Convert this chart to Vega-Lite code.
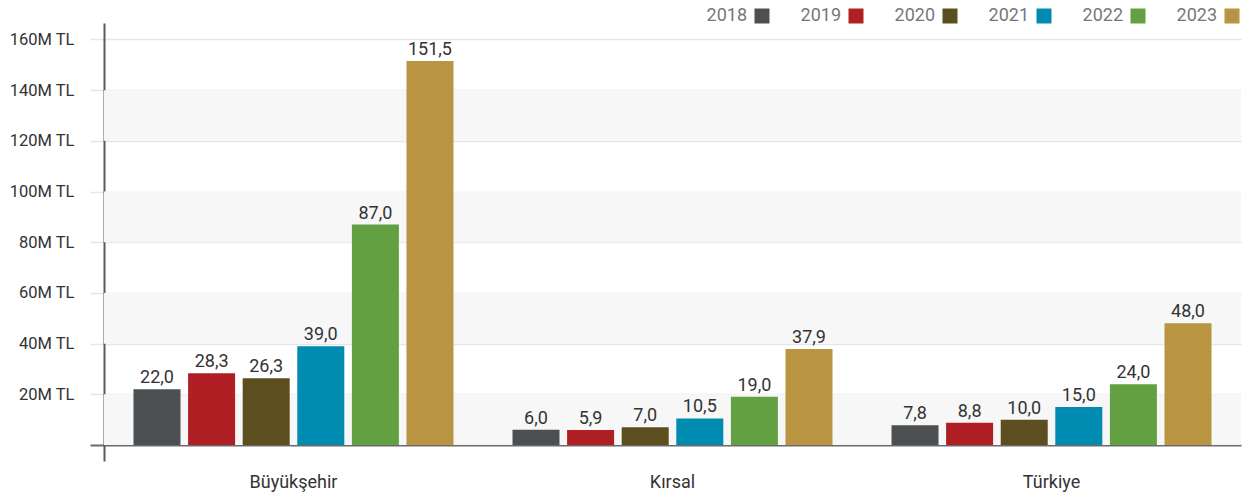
{
  "$schema": "https://vega.github.io/schema/vega-lite/v6.json",
  "width": 1137,
  "height": 438,
  "autosize": {"type": "none"},
  "padding": {"left": 104, "top": 23, "right": 10, "bottom": 35},
  "config": {
    "font": "Roboto",
    "view": {"stroke": null},
    "locale": {"number": {"decimal": ",", "thousands": ".", "grouping": [3], "currency": ["", " TL"]}}
  },
  "datasets": {
    "bands": [
      {"lo": 0, "hi": 20},
      {"lo": 40, "hi": 60},
      {"lo": 80, "hi": 100},
      {"lo": 120, "hi": 140}
    ],
    "vals": [
      {"grup": "Büyükşehir", "yil": "2018", "deger": 22.0},
      {"grup": "Büyükşehir", "yil": "2019", "deger": 28.3},
      {"grup": "Büyükşehir", "yil": "2020", "deger": 26.3},
      {"grup": "Büyükşehir", "yil": "2021", "deger": 39.0},
      {"grup": "Büyükşehir", "yil": "2022", "deger": 87.0},
      {"grup": "Büyükşehir", "yil": "2023", "deger": 151.5},
      {"grup": "Kırsal", "yil": "2018", "deger": 6.0},
      {"grup": "Kırsal", "yil": "2019", "deger": 5.9},
      {"grup": "Kırsal", "yil": "2020", "deger": 7.0},
      {"grup": "Kırsal", "yil": "2021", "deger": 10.5},
      {"grup": "Kırsal", "yil": "2022", "deger": 19.0},
      {"grup": "Kırsal", "yil": "2023", "deger": 37.9},
      {"grup": "Türkiye", "yil": "2018", "deger": 7.8},
      {"grup": "Türkiye", "yil": "2019", "deger": 8.8},
      {"grup": "Türkiye", "yil": "2020", "deger": 10.0},
      {"grup": "Türkiye", "yil": "2021", "deger": 15.0},
      {"grup": "Türkiye", "yil": "2022", "deger": 24.0},
      {"grup": "Türkiye", "yil": "2023", "deger": 48.0}
    ]
  },
  "layer": [
    {
      "data": {"name": "bands"},
      "mark": {"type": "rect", "color": "#f7f7f7"},
      "encoding": {
        "y": {
          "field": "lo", "type": "quantitative",
          "scale": {"domain": [-6.3, 166.5], "nice": false, "zero": false},
          "axis": {
            "title": null,
            "values": [0, 20, 40, 60, 80, 100, 120, 140, 160],
            "labelExpr": "datum.value === 0 ? '' : datum.value + 'M TL'",
            "labelFontSize": 16.5,
            "labelColor": "#333333",
            "labelPadding": 16,
            "tickSize": 14,
            "tickColor": {"condition": {"test": "datum.value === 0", "value": "#6b6b6b"}, "value": "#e6e6e6"},
            "tickWidth": {"condition": {"test": "datum.value === 0", "value": 2}, "value": 1.5},
            "grid": true,
            "gridColor": {"condition": {"test": "datum.value === 0", "value": "#6b6b6b"}, "value": "#e6e6e6"},
            "gridWidth": {"condition": {"test": "datum.value === 0", "value": 2}, "value": 1.5},
            "domainColor": "#5a5a5a",
            "domainWidth": 2
          }
        },
        "y2": {"field": "hi"}
      }
    },
    {
      "data": {"name": "vals"},
      "mark": {"type": "bar"},
      "encoding": {
        "x": {
          "field": "grup", "type": "nominal", "sort": null,
          "scale": {"paddingInner": 0.1557, "paddingOuter": 0.0778},
          "axis": {"title": null, "domain": false, "ticks": false, "labelAngle": 0, "labelFontSize": 18, "labelColor": "#333333", "labelPadding": 12}
        },
        "xOffset": {
          "field": "yil", "type": "nominal",
          "scale": {"paddingInner": 0.139, "paddingOuter": 0}
        },
        "y": {"field": "deger", "type": "quantitative"},
        "color": {
          "field": "yil", "type": "nominal",
          "scale": {"domain": ["2018", "2019", "2020", "2021", "2022", "2023"], "range": ["#4d5052", "#b01f24", "#5c4e1f", "#008bb0", "#62a042", "#b99542"]},
          "legend": {
            "title": null,
            "orient": "none",
            "legendX": 649,
            "legendY": -16,
            "direction": "horizontal",
            "symbolType": "square",
            "symbolSize": 225,
            "symbolStrokeWidth": 0,
            "symbolOpacity": 1,
            "labelAlign": "right",
            "labelOffset": -24,
            "labelFontSize": 18,
            "labelColor": "#777777",
            "columnPadding": 30
          }
        }
      }
    },
    {
      "data": {"name": "vals"},
      "mark": {"type": "text", "baseline": "alphabetic", "dy": -6, "fontSize": 18, "color": "#333333"},
      "encoding": {
        "x": {"field": "grup", "type": "nominal", "sort": null},
        "xOffset": {"field": "yil", "type": "nominal"},
        "y": {"field": "deger", "type": "quantitative"},
        "text": {"field": "deger", "type": "quantitative", "format": ".1f"}
      }
    }
  ]
}
